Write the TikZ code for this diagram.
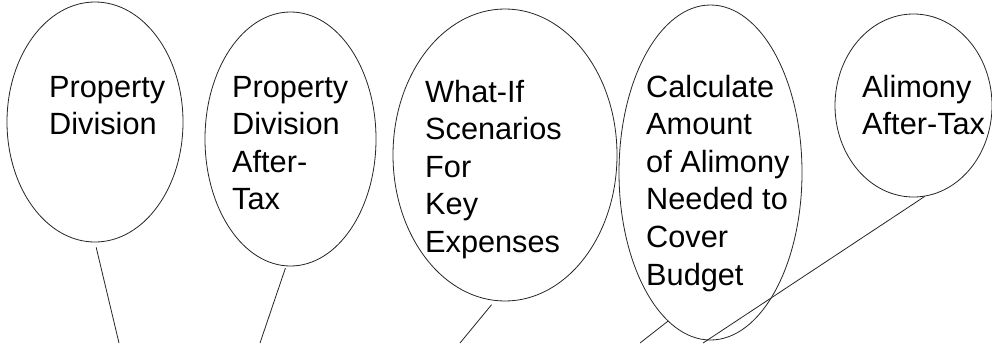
\documentclass[tikz,border=0pt]{standalone}
\usepackage{fontspec}
\setmainfont{Liberation Sans}
\usetikzlibrary{shapes.geometric}
\begin{document}
\begin{tikzpicture}[x=1pt,y=-1pt,
  bubble/.style={draw=black!85, line width=0.8pt, shape=ellipse, inner sep=0pt},
  lbl/.style={anchor=base west, align=left, inner sep=0pt, font=\fontsize{30.7}{37.6}\selectfont},
  stick/.style={draw=black!85, line width=0.8pt}]
\useasboundingbox (0,0) rectangle (992,343);
\fill[white] (0,0) rectangle (992,343);
% bubbles
\node[bubble, minimum width=176pt, minimum height=240pt] (e1) at (95,122) {};
\node[bubble, minimum width=171pt, minimum height=254pt] (e2) at (290.5,139) {};
\node[bubble, minimum width=224pt, minimum height=292pt] (e3) at (505,155) {};
\node[bubble, minimum width=183pt, minimum height=335pt] (e4) at (710.5,172.5) {};
\node[bubble, minimum width=157pt, minimum height=183pt] (e5) at (913.5,105.5) {};
% labels (anchored at the baseline of their last line)
\node[lbl] (t1) at (49,134.6) {Property\\Division};
\node[lbl] (t2) at (232,209.8) {Property\\Division\\After-\\Tax};
\node[lbl] (t3) at (425,252.4) {What-If\\Scenarios\\For\\Key\\Expenses};
\node[lbl] (t4) at (646,285) {Calculate\\Amount\\of Alimony\\Needed to\\Cover\\Budget};
\node[lbl] (t5) at (862,134.6) {Alimony\\After-Tax};
% stick ends
\coordinate (b1) at (119,343);
\coordinate (b2) at (260,343);
\coordinate (b3) at (460,343);
\coordinate (b4) at (640,343);
\coordinate (b5) at (703,343);
% sticks
\draw[stick, shorten <=5pt] (e1.south) -- (b1);
\draw[stick, shorten <=2pt] (e2.268) -- (b2);
\draw[stick, shorten <=5pt] (e3.266) -- (b3);
\draw[stick] (e4.254) -- (b4);
\draw[stick] (e5.277) -- (b5);
\end{tikzpicture}
\end{document}
